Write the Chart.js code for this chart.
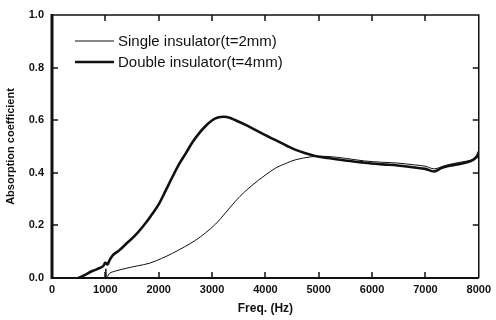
<!DOCTYPE html>
<html><head><meta charset="utf-8">
<script src="https://cdn.jsdelivr.net/npm/chart.js@4"></script>
<style>html,body{margin:0;padding:0;background:#fff}#wrap{width:496px;height:320px}</style>
</head><body><div id="wrap"><canvas id="c" width="496" height="320"></canvas></div>
<script>
const seriesLabels = ["Single insulator(t=2mm)", "Double insulator(t=4mm)"];
const xTicks = [0,1000,2000,3000,4000,5000,6000,7000,8000];
const yTicks = [0,0.2,0.4,0.6,0.8,1.0];
const freqSingle = [1000,1010,1030,1080,1200,1391,1600,1825,2050,2259,2480,2694,2880,3067,3250,3439,3613,3873,4184,4400,4557,4866,5177,5500,5860,6200,6480,6800,7000,7163,7300,7411,7600,7784,7900,8000];
const valSingle = [0,0.035,0.003,0.018,0.027,0.037,0.046,0.056,0.074,0.094,0.118,0.144,0.172,0.205,0.247,0.292,0.328,0.372,0.417,0.437,0.449,0.461,0.462,0.455,0.445,0.44,0.437,0.43,0.425,0.415,0.423,0.43,0.438,0.445,0.45,0.46];
const freqDouble = [490,600,708,800,894,960,1000,1040,1080,1142,1260,1391,1550,1700,1850,2011,2130,2259,2380,2508,2630,2756,2880,3004,3110,3222,3330,3439,3600,3812,4000,4184,4400,4557,4750,4929,5177,5500,5860,6200,6480,6800,7000,7163,7300,7411,7600,7784,7900,7970,8000];
const valDouble = [0,0.01,0.022,0.03,0.038,0.045,0.058,0.052,0.068,0.087,0.105,0.13,0.16,0.195,0.235,0.284,0.332,0.385,0.432,0.474,0.515,0.55,0.578,0.6,0.61,0.613,0.609,0.6,0.585,0.563,0.543,0.525,0.503,0.488,0.474,0.464,0.456,0.447,0.438,0.432,0.428,0.42,0.415,0.405,0.418,0.425,0.432,0.44,0.45,0.465,0.48];

const toPts = (xs, ys) => xs.map((x,i)=>({x, y: ys[i]}));
const INK = '#111';
const FONT = '"Liberation Sans", Arial, sans-serif';

const framePlugin = {
  id: 'frame',
  afterDatasetsDraw(chart) {
    const {ctx, chartArea: a, scales: {x, y}} = chart;
    ctx.save();
    ctx.strokeStyle = INK;
    ctx.lineWidth = 1.5;
    ctx.beginPath();
    ctx.moveTo(a.left, a.top); ctx.lineTo(a.right, a.top); ctx.lineTo(a.right, a.bottom);
    ctx.stroke();
    ctx.lineWidth = 3;
    ctx.beginPath(); ctx.moveTo(a.left, a.top - 1); ctx.lineTo(a.left, a.bottom + 1); ctx.stroke();
    ctx.lineWidth = 2.2;
    ctx.beginPath(); ctx.moveTo(a.left, a.bottom); ctx.lineTo(a.right, a.bottom); ctx.stroke();
    ctx.lineWidth = 1.5;
    const tl = 6;
    xTicks.forEach(v => {
      if (v === xTicks[0] || v === xTicks[xTicks.length-1]) return;
      const px = Math.round(x.getPixelForValue(v));
      ctx.beginPath(); ctx.moveTo(px, a.bottom); ctx.lineTo(px, a.bottom - tl); ctx.stroke();
      ctx.beginPath(); ctx.moveTo(px, a.top); ctx.lineTo(px, a.top + tl); ctx.stroke();
    });
    yTicks.forEach(v => {
      if (v === yTicks[0] || v === yTicks[yTicks.length-1]) return;
      const py = Math.round(y.getPixelForValue(v));
      ctx.beginPath(); ctx.moveTo(a.left, py); ctx.lineTo(a.left + tl, py); ctx.stroke();
      ctx.beginPath(); ctx.moveTo(a.right, py); ctx.lineTo(a.right - tl, py); ctx.stroke();
    });
    const lx0 = a.left + 23, lx1 = a.left + 62, tx = a.left + 66;
    const rows = [{y: a.top + 26, w: 1}, {y: a.top + 47, w: 2.5}];
    ctx.font = '15px ' + FONT;
    ctx.fillStyle = INK;
    ctx.textBaseline = 'middle';
    rows.forEach((r, i) => {
      ctx.lineWidth = r.w;
      ctx.beginPath(); ctx.moveTo(lx0, r.y); ctx.lineTo(lx1, r.y); ctx.stroke();
      ctx.fillText(seriesLabels[i], tx, r.y + 1);
    });
    ctx.restore();
  }
};

new Chart(document.getElementById('c'), {
  type: 'line',
  data: {
    datasets: [
      {label: seriesLabels[0], data: toPts(freqSingle, valSingle), borderColor: INK, borderWidth: 1, pointRadius: 0, tension: 0.35, fill: false},
      {label: seriesLabels[1], data: toPts(freqDouble, valDouble), borderColor: INK, borderWidth: 2.6, pointRadius: 0, tension: 0.35, fill: false}
    ]
  },
  options: {
    responsive: false,
    animation: false,
    layout: {padding: {top: 15, right: 14, left: 0, bottom: 0}},
    plugins: {legend: {display: false}, tooltip: {enabled: false}},
    scales: {
      x: {
        type: 'linear', min: 0, max: 8000,
        afterBuildTicks: s => { s.ticks = xTicks.map(v => ({value: v})); },
        afterFit: s => { s.height = 42; },
        grid: {display: false, drawTicks: false},
        border: {display: false},
        ticks: {color: INK, padding: 5, maxRotation: 0, autoSkip: false, font: {family: FONT, size: 11, weight: 'bold'}, callback: v => String(v)},
        title: {display: true, text: 'Freq. (Hz)', color: INK, padding: {top: 7}, font: {family: FONT, size: 12, weight: 'bold'}}
      },
      y: {
        type: 'linear', min: 0, max: 1,
        afterBuildTicks: s => { s.ticks = yTicks.map(v => ({value: v})); },
        afterFit: s => { s.width = 52; },
        grid: {display: false, drawTicks: false},
        border: {display: false},
        ticks: {color: INK, padding: 8, autoSkip: false, font: {family: FONT, size: 11, weight: 'bold'}, callback: v => v.toFixed(1)},
        title: {display: true, text: 'Absorption coefficient', color: INK, padding: {bottom: 2}, font: {family: FONT, size: 11, weight: 'bold'}}
      }
    }
  },
  plugins: [framePlugin]
});
</script>
</body></html>
